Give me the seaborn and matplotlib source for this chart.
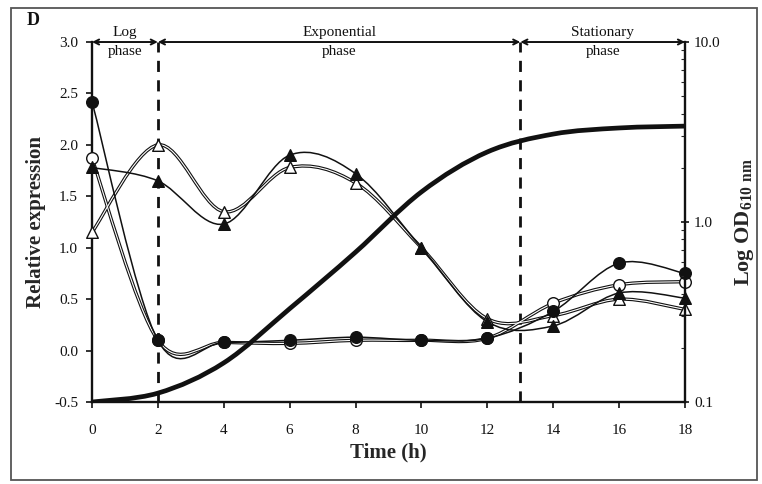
import numpy as np
import matplotlib
matplotlib.use("Agg")
import matplotlib.pyplot as plt
import seaborn as sns
from matplotlib.path import Path
from matplotlib.patches import PathPatch, Rectangle
from matplotlib.ticker import FixedLocator, FixedFormatter, NullFormatter

# --- data ---
time_h = [0, 2, 4, 6, 8, 10, 12, 14, 16, 18]
filled_circle = [2.42, 0.10, 0.08, 0.10, 0.13, 0.10, 0.12, 0.38, 0.85, 0.75]
open_circle = [1.87, 0.10, 0.08, 0.07, 0.10, 0.10, 0.12, 0.46, 0.64, 0.67]
filled_triangle = [1.78, 1.65, 1.23, 1.90, 1.72, 1.00, 0.28, 0.24, 0.56, 0.51]
open_triangle = [1.15, 2.00, 1.35, 1.78, 1.63, 1.00, 0.31, 0.34, 0.50, 0.40]

od_time = [0, 2, 4, 6, 8, 10, 12, 14, 16, 18]
od_610 = [0.100, 0.112, 0.165, 0.33, 0.68, 1.47, 2.45, 3.08, 3.33, 3.41]

phases = ["Log\nphase", "Exponential\nphase", "Stationary\nphase"]
phase_bounds = [0, 2, 13, 18]

INK = "#111111"


def smooth_path(x, y):
    """Excel-style smoothed line: cubic Bezier segments through the points"""
    pts = np.column_stack([np.asarray(x, float), np.asarray(y, float)])
    n = len(pts)
    verts = [pts[0]]
    codes = [Path.MOVETO]
    for i in range(n - 1):
        p0 = pts[i - 1] if i > 0 else pts[i]
        p1 = pts[i]
        p2 = pts[i + 1]
        p3 = pts[i + 2] if i + 2 < n else pts[i + 1]
        verts += [p1 + (p2 - p0) / 6.0, p2 - (p3 - p1) / 6.0, p2]
        codes += [Path.CURVE4] * 3
    return np.array(verts), codes


sns.set_style("ticks")
plt.rcParams["font.family"] = ["Liberation Serif", "DejaVu Serif"]
plt.rcParams["mathtext.fontset"] = "custom"
plt.rcParams["mathtext.rm"] = "Liberation Serif"
plt.rcParams["mathtext.bf"] = "Liberation Serif:bold"

fig = plt.figure(figsize=(7.62, 4.84), dpi=100)
ax = fig.add_axes([0.1207, 0.1694, 0.7783, 0.7438])
ax2 = ax.twinx()

# open series: hollow lines (white core, dark edges)
for vals in (open_triangle, open_circle):
    v, c = smooth_path(time_h, vals)
    ax.add_patch(PathPatch(Path(v, c), ec=INK, lw=2.4, fill=False, zorder=3))
    ax.add_patch(PathPatch(Path(v, c), ec="white", lw=0.8, fill=False,
                           zorder=3.1))
# filled series: plain thin lines
for vals in (filled_triangle, filled_circle):
    v, c = smooth_path(time_h, vals)
    ax.add_patch(PathPatch(Path(v, c), ec=INK, lw=1.1, fill=False,
                           zorder=3.2))

series = [
    (open_triangle, "^", "white"),
    (open_circle, "o", "white"),
    (filled_triangle, "^", INK),
    (filled_circle, "o", INK),
]
for k, (vals, marker, face) in enumerate(series):
    sns.scatterplot(x=time_h, y=vals, marker=marker, s=70, color=face,
                    edgecolor=INK, linewidth=1.0, ax=ax, zorder=4 + k * 0.1,
                    clip_on=False, legend=False)

# growth curve on log axis, smoothed in log space
v, c = smooth_path(od_time, np.log10(od_610))
v[:, 1] = 10 ** v[:, 1]
ax2.add_patch(PathPatch(Path(v, c), ec=INK, lw=3.4, fill=False,
                        zorder=2, capstyle="round"))

ax.set_xlim(0, 18)
ax.set_ylim(-0.5, 3.0)
ax2.set_yscale("log")
ax2.set_ylim(0.1, 10)

ax.set_xticks(range(0, 19, 2))
yt = np.arange(-0.5, 3.01, 0.5)
ax.set_yticks(yt)
ax.set_yticklabels([f"{t:.1f}" for t in yt])
ax2.yaxis.set_major_locator(FixedLocator([0.1, 1, 10]))
ax2.yaxis.set_major_formatter(FixedFormatter(["0.1", "1.0", "10.0"]))
ax2.yaxis.set_minor_formatter(NullFormatter())

for a in (ax, ax2):
    a.spines["top"].set_visible(False)
    for s in a.spines.values():
        s.set_linewidth(1.7)
        s.set_color(INK)
ax.spines["right"].set_visible(False)
ax2.spines["left"].set_visible(False)
ax2.spines["bottom"].set_visible(False)
ax.tick_params(axis="both", direction="out", length=4, width=1.2,
               labelsize=11, colors=INK)
ax.tick_params(axis="x", pad=12)
ax.tick_params(axis="y", pad=6)
ax2.tick_params(axis="y", which="major", direction="inout", length=6,
                width=1.2, labelsize=11, colors=INK)
ax2.tick_params(axis="y", which="minor", direction="in", length=3, width=0.8)

ax.set_xlabel("Time (h)", fontsize=15, fontweight="bold", labelpad=4)
ax.set_ylabel("Relative expression", fontsize=15, fontweight="bold",
              labelpad=6)
ax2.set_ylabel(r"Log OD$_{\mathbf{610\ nm}}$", fontsize=16,
               fontweight="bold", labelpad=9)

# phase boundaries
for xb in phase_bounds[1:-1]:
    ax.axvline(xb, color=INK, lw=2.0, ls=(0, (4, 3)), zorder=1)

# phase arrows and labels along the top
for i, label in enumerate(phases):
    x0, x1 = phase_bounds[i], phase_bounds[i + 1]
    ax.annotate("", xy=(x1, 3.0), xytext=(x0, 3.0),
                arrowprops=dict(arrowstyle="<->", color=INK, lw=1.4,
                                shrinkA=0, shrinkB=0, mutation_scale=9),
                annotation_clip=False)
    top, bottom = label.split("\n")
    xm = (x0 + x1) / 2
    ax.text(xm, 3.03, top, ha="center", va="bottom", fontsize=11, color=INK)
    ax.text(xm, 2.97, bottom, ha="center", va="top", fontsize=11, color=INK)

fig.text(0.035, 0.975, "D", fontsize=13, fontweight="bold", va="top",
         color=INK)
fig.patches.append(Rectangle((0.014, 0.008), 0.98, 0.975,
                             transform=fig.transFigure, fill=False,
                             ec="#555555", lw=1.3))

fig.savefig("out.png", dpi=100)
